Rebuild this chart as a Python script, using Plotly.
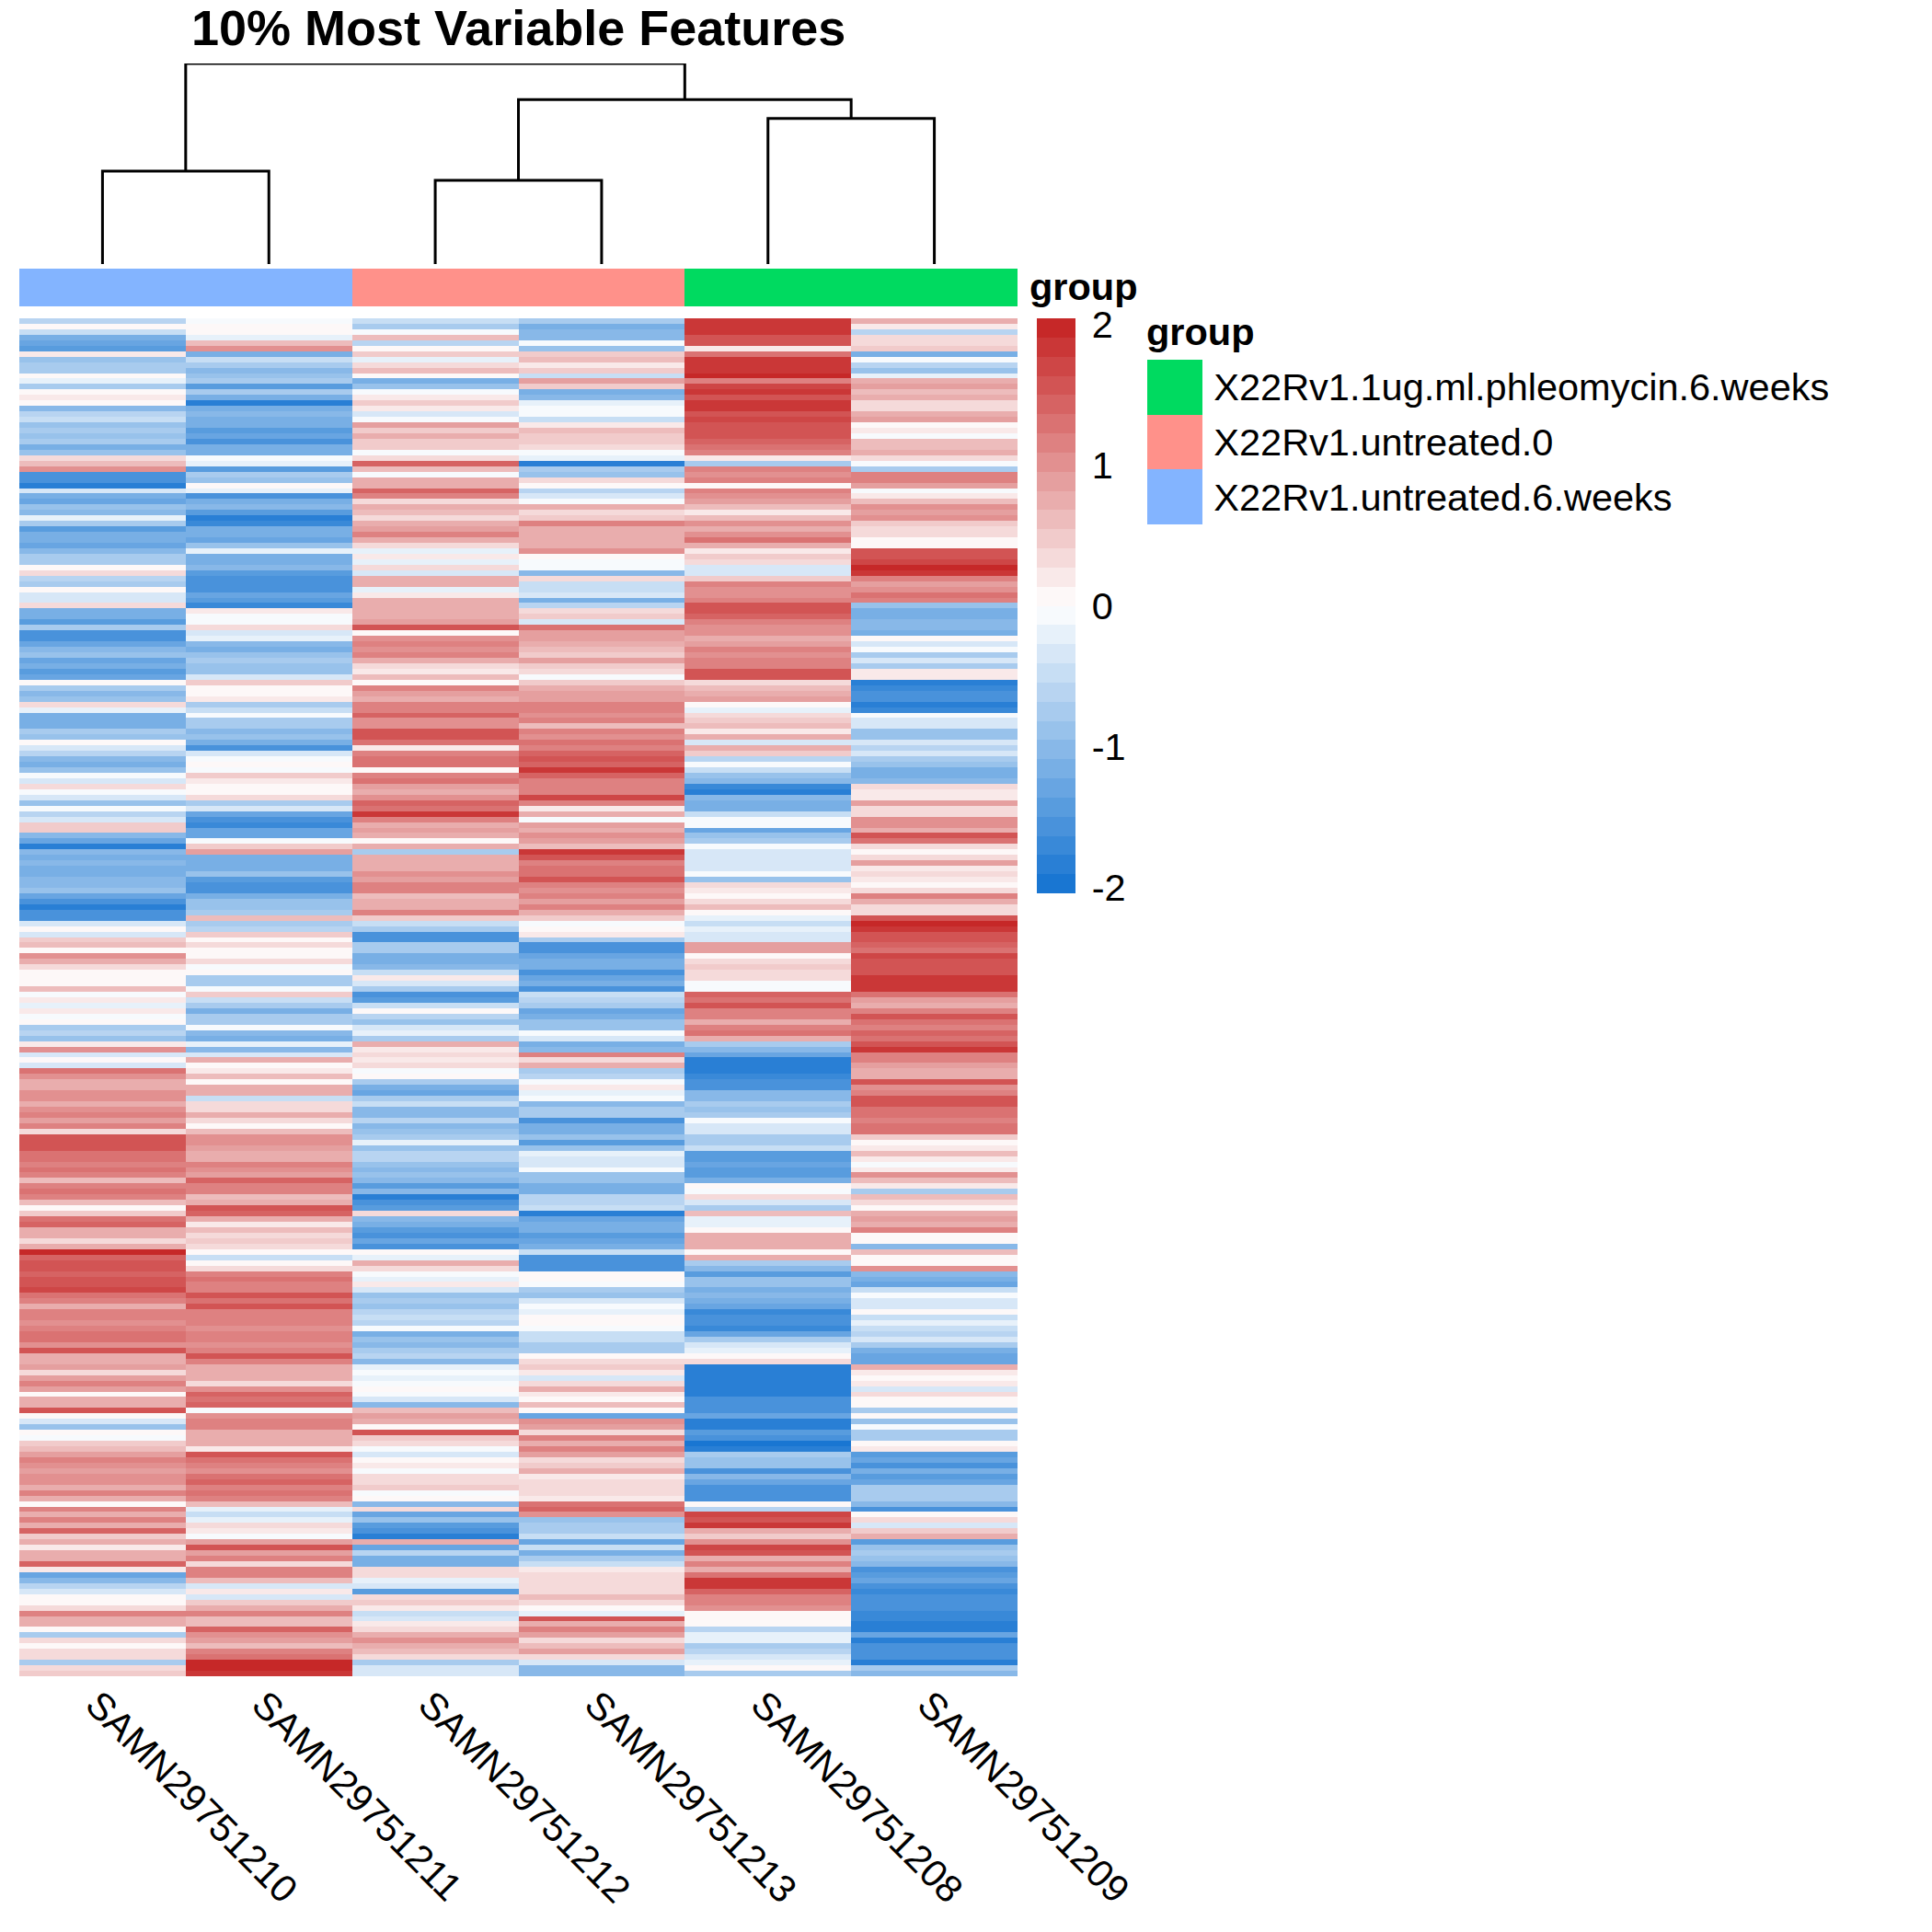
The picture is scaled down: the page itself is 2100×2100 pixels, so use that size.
import numpy as np
import plotly.graph_objects as go

# 샘플 / 그룹
samples = ["SAMN29751210", "SAMN29751211", "SAMN29751212", "SAMN29751213", "SAMN29751208", "SAMN29751209"]
sample_group = [2, 2, 1, 1, 0, 0]
group_names = ["X22Rv1.1ug.ml.phleomycin.6.weeks", "X22Rv1.untreated.0", "X22Rv1.untreated.6.weeks"]
group_colors = ["#00DA60", "#FF918A", "#83B4FF"]

# 덴드로그램 (왼쪽, 오른쪽, 높이) : 음수는 잎, 양수는 앞선 병합 번호
merge_left = [-1, -3, -5, 2, 1]
merge_right = [-2, -4, -6, 3, 4]
merge_height = [0.463, 0.417, 0.726, 0.82, 1.0]

# 스케일된 발현값 (그림에서 읽은 값, 위에서 아래로)
v_210 = [-0.6,0.0,-0.5,-1.2,-1.3,-1.4,0.2,-0.9,-0.8,-0.7,0.0,-0.2,-0.8,0.0,0.2,0.1,-1.0,-0.6,-0.5,-0.9,-0.7,-0.9,-0.7,-1.2,-0.9,0.3,0.6,1.0,-1.5,-1.5,-1.8,-0.3,-1.2,-1.3,-0.9,-1.0,-0.2,-0.8,-1.4,-1.1,-1.1,-1.3,-1.0,-0.7,-0.8,0.0,0.3,-0.6,-0.7,0.0,-0.4,-0.3,0.4,-1.2,-1.1,-1.4,-0.8,-1.5,-1.6,-1.3,-1.0,-0.9] + \
    [-1.3,-1.2,-1.4,-1.3,0.0,-0.8,-1.0,-0.9,0.4,-0.2,-1.2,-1.2,-1.2,-0.7,-0.9,0.1,-0.4,-0.6,-1.0,-1.1,-0.9,-0.1,-0.4,0.3,-0.1,-0.4,-0.9,-0.1,-0.6,-0.4,0.5,0.5,-1.0,-1.3,-1.9,-1.0,-1.2,-1.0,-1.1,-1.2,-1.0,-1.0,-0.9,-1.3,-1.5,-1.9,-1.6,-1.5,-0.3,0.0,-0.4,0.5,0.6,0.1,1.0,0.7,0.3,0.1,0.0,0.1,0.6,-0.1] + \
    [0.2,-0.2,0.2,-0.1,0.0,-0.7,-0.6,-0.9,0.2,1.0,-0.3,0.0,-0.3,1.3,1.0,0.8,0.8,1.0,1.0,0.7,1.0,1.1,0.9,1.1,0.4,1.5,1.6,1.6,1.3,1.3,1.2,1.3,1.1,0.6,1.2,1.3,1.2,0.6,0.1,0.5,1.3,1.4,0.8,0.8,0.4,0.8,2.0,1.4,1.6,1.5,1.4,1.5,1.6,1.7,1.3,1.1,0.7,1.1,1.2,1.0,1.2,1.3] + \
    [1.3,1.0,1.5,0.8,0.8,0.9,0.4,0.9,1.1,0.9,0.0,0.7,0.8,1.6,0.0,-0.3,-0.9,0.1,-0.1,0.5,0.6,0.9,1.1,1.0,0.9,1.0,1.0,0.7,1.1,0.7,0.1,1.1,0.8,1.2,0.7,1.4,0.5,0.8,0.2,0.7,0.8,1.4,0.2,-1.3,-1.0,-0.6,-0.3,0.0,0.0,0.4,1.1,0.7,0.7,0.0,-0.8,0.4,0.1,0.4,0.4,-0.7,0.4,0.5]
v_211 = [-0.1,0.0,0.1,-0.2,0.6,1.0,-1.1,-0.5,-0.8,-1.0,-0.9,-0.8,-1.4,-0.7,-1.1,-1.8,-1.1,-1.0,-1.1,-1.1,-1.4,-1.3,-1.5,-1.1,-1.1,-0.1,-0.2,-1.4,-0.7,-0.9,0.0,-0.2,-1.6,-1.1,-1.0,-1.4,-1.8,-1.7,-1.2,-1.1,-1.3,-0.9,-0.2,-1.2,-1.1,-1.0,-1.4,-1.6,-1.5,-1.6,-1.3,-1.4,-1.7,0.2,-0.1,-0.1,0.3,-0.4,-0.2,-1.0,-1.1,-0.9] + \
    [-0.8,-0.9,-0.9,-0.4,0.5,0.1,0.1,0.2,-0.7,-0.5,-0.1,-0.8,-0.7,-1.0,-0.9,-1.2,-1.5,-0.3,-0.1,0.0,-0.1,0.5,0.2,0.1,0.1,0.3,-0.7,-0.3,-1.3,-1.5,-1.7,-1.3,-1.3,-0.1,0.5,0.9,-1.2,-1.1,-1.2,-0.9,-1.4,-1.5,-1.6,-1.2,-0.9,-0.9,-0.8,0.6,-0.7,-0.6,0.5,0.1,0.3,0.0,0.1,0.3,-0.1,0.1,-0.8,-0.7,-0.1,0.5] + \
    [-0.5,-0.7,-1.1,-0.8,-0.8,-0.1,-1.0,-1.1,-0.2,-1.0,-0.4,0.8,0.1,0.2,0.6,0.0,0.8,0.7,-0.5,0.3,0.4,0.7,0.3,0.1,0.6,1.0,1.0,0.9,0.8,0.8,1.1,1.0,0.9,1.4,1.2,1.1,0.6,0.7,1.6,1.4,0.7,0.2,0.6,0.4,0.5,0.4,0.0,-0.5,0.1,0.3,1.1,1.3,1.1,1.2,1.6,1.3,1.5,1.1,1.1,1.1,1.0,1.1] + \
    [1.2,1.0,1.1,1.5,1.2,0.8,0.8,0.8,0.4,1.0,1.4,1.3,1.4,-0.1,1.0,1.1,1.1,0.7,0.7,0.8,0.2,1.5,1.3,1.2,1.0,1.3,1.4,1.2,1.3,1.2,0.6,-0.2,-0.5,-0.2,0.3,0.2,-0.1,0.9,1.6,0.9,1.1,0.4,1.2,1.2,0.6,-0.3,0.2,-0.3,0.5,0.7,1.2,0.6,0.6,1.4,1.0,0.9,0.6,1.1,1.3,2.0,2.0,1.9]
v_212 = [-0.5,-0.7,-0.1,0.6,-0.6,0.1,0.5,-0.2,0.3,0.6,0.0,-1.1,-0.9,-0.1,0.2,0.5,0.2,-0.3,-0.1,0.9,0.5,0.7,0.5,0.5,-0.1,0.4,1.4,0.6,-0.1,0.8,0.7,1.4,1.2,0.3,0.7,0.6,0.4,0.7,0.9,1.2,0.8,0.4,-0.2,0.2,-0.2,0.4,-0.4,0.8,0.7,-0.2,0.2,0.8,0.7,0.8,0.8,0.9,1.5,0.1,1.0,1.1,1.0,1.1] + \
    [0.8,0.4,0.2,0.6,0.0,1.2,0.9,0.8,1.2,1.1,1.4,1.0,1.0,1.5,1.6,1.3,0.2,1.2,1.3,1.3,0.0,1.1,1.3,0.9,0.8,1.0,1.4,1.3,1.8,1.1,0.8,0.9,0.7,0.0,0.7,-0.7,0.8,0.8,0.8,1.0,0.9,1.2,1.1,0.6,0.8,0.7,1.2,0.5,-0.5,-0.8,-1.5,-1.5,-0.7,-0.7,-1.2,-1.2,-1.0,-0.5,0.2,-0.4,-0.8,-1.6] + \
    [-1.4,-0.5,0.0,-0.6,-0.9,-0.4,-0.2,-0.7,0.8,0.2,0.3,0.2,0.3,-0.1,0.0,-0.8,-1.2,-1.3,-0.8,-0.5,-1.0,-1.0,-0.6,-1.0,-0.9,-0.7,-0.2,-0.9,-0.6,-0.6,-0.9,-1.0,-0.9,-1.0,-1.4,-1.0,-1.8,-1.5,-1.4,0.3,-1.0,-1.2,-1.4,-1.5,-1.3,-1.5,0.1,-0.2,0.7,0.3,-0.1,-0.2,0.2,-0.3,-0.9,-0.8,-0.9,-0.6,-0.5,-0.6,-0.1,-1.2] + \
    [-0.9,-1.0,-0.7,-0.6,-1.0,-0.2,-0.1,-0.2,-0.1,0.0,-0.1,-0.4,-1.0,0.6,0.9,0.7,0.1,1.5,0.5,0.3,-0.1,-0.3,0.0,0.2,-0.1,0.4,0.3,0.5,-0.1,0.0,-1.0,0.4,-1.3,-0.9,-1.4,-1.5,-1.8,0.7,-1.3,-0.6,-1.2,-1.1,0.3,0.4,-0.2,-0.4,-1.4,0.3,0.5,0.2,-0.5,-0.3,0.2,0.4,0.8,1.0,0.8,0.6,0.4,-0.7,-0.3,-0.3]
v_213 = [-0.8,-1.2,-1.0,-1.0,-0.1,-0.9,0.5,0.6,0.2,0.5,-0.5,0.9,0.5,-1.1,-1.0,-0.2,-0.1,-0.1,-0.5,0.2,0.6,0.5,0.5,0.3,-0.1,-0.2,-1.8,-0.7,-0.9,0.3,0.1,-0.6,-0.3,-0.1,0.8,0.4,0.5,1.2,0.7,0.7,0.7,0.8,1.0,0.1,-0.1,-0.1,-1.0,0.4,-0.5,-0.5,-0.4,-1.2,-0.6,0.3,0.5,-0.3,1.3,0.9,0.9,0.8,0.6,0.5] + \
    [0.9,0.5,0.3,-0.1,0.5,0.7,0.9,0.9,1.2,1.2,1.0,1.1,0.6,1.1,1.0,1.3,1.1,1.4,1.5,1.4,1.8,1.4,1.2,1.2,1.1,1.7,1.2,0.2,0.7,-0.1,0.9,0.8,1.0,0.9,0.6,1.8,1.6,1.2,1.3,1.3,1.5,1.2,1.0,1.1,0.9,1.1,0.8,0.5,-0.1,0.0,0.2,-0.8,-1.6,-1.6,-1.3,-1.2,-1.1,-1.5,-1.3,-1.2,-1.6,-0.5] + \
    [-0.6,-0.7,-1.3,-1.1,-0.9,-0.9,-0.1,-0.4,-1.2,-1.0,1.2,0.3,0.7,-0.8,-0.6,-0.1,0.2,-0.2,-0.1,-1.0,-0.7,-0.8,-1.5,-1.2,-1.1,-0.9,-1.4,-0.9,-0.2,-0.4,-0.3,-0.1,-0.9,-0.9,-1.1,-1.1,-0.6,-0.6,-0.5,-1.9,-1.3,-1.2,-1.2,-1.4,-1.3,-1.2,-0.5,-1.6,-1.6,-1.5,0.1,0.0,-0.1,-0.7,-0.9,-0.4,-0.1,-0.2,0.0,0.1,-0.1,-0.5] + \
    [-0.5,-0.7,-0.8,0.0,0.3,0.5,0.2,-0.4,0.3,0.7,0.2,0.0,0.6,0.1,-1.3,1.0,0.9,0.4,1.1,0.8,1.1,0.9,0.3,0.5,0.8,0.2,0.4,0.3,0.3,0.2,1.3,1.4,1.0,-0.9,-0.8,-0.7,-0.5,-1.3,-0.5,-1.2,-0.8,-0.5,0.2,0.3,0.4,0.4,0.3,0.6,0.3,0.0,-0.2,1.5,0.7,1.1,0.9,0.4,0.6,0.9,0.4,-0.4,-1.0,-1.0]
v_208 = [1.8,1.9,1.9,1.6,1.5,0.2,1.3,1.8,1.9,1.8,2.0,1.2,1.7,1.8,1.6,1.8,1.9,1.6,1.7,1.6,1.5,1.5,1.4,1.3,1.2,0.2,-0.8,1.1,1.0,1.1,0.1,1.1,1.0,0.9,0.6,0.2,0.6,1.0,0.7,1.0,1.3,0.8,0.2,0.5,0.3,-0.3,-0.3,0.5,1.1,1.0,1.0,1.1,1.5,1.6,1.4,1.2,1.0,1.0,0.8,0.9,1.2,1.0] + \
    [1.2,1.1,1.5,1.6,0.3,0.6,0.8,0.9,0.0,-0.2,0.4,0.5,0.6,0.2,0.7,-0.3,0.7,0.5,-0.6,-0.1,-0.5,-0.9,-1.0,-1.7,-1.8,-1.0,-1.2,-1.1,-0.5,-0.1,-0.1,-1.3,-0.9,-0.8,-0.1,-0.3,-0.4,-0.4,-0.4,-0.1,-0.9,0.4,0.2,0.0,0.4,0.6,0.1,-0.2,-0.5,-0.2,-0.3,-0.4,0.9,0.9,0.1,0.3,0.5,0.4,0.3,-0.1,-0.1,1.4] + \
    [1.3,1.6,1.2,1.1,0.8,1.1,1.3,0.8,-0.7,-1.0,-1.3,-1.9,-1.8,-1.8,-1.7,-1.6,-1.6,-1.0,-1.0,-0.7,-0.9,-0.8,-0.1,-0.4,-0.3,-0.7,-0.8,-0.5,-1.4,-1.4,-1.3,-1.4,-1.4,-1.2,0.0,-0.1,0.4,-0.3,-0.7,0.6,-0.2,-0.2,0.1,0.8,0.8,0.7,0.0,0.8,-0.7,-1.0,-1.4,-0.9,-0.9,-1.1,-1.0,-1.1,-1.3,-1.7,-1.6,-1.5,-1.7,-1.3] + \
    [-0.8,-0.4,-0.2,0.0,0.4,-1.9,-1.9,-1.9,-1.8,-1.8,-1.9,-1.5,-1.6,-1.6,-1.3,-1.8,-1.8,-1.4,-1.5,-2.0,-1.9,-0.8,-0.9,-0.9,-1.5,-1.0,-1.3,-1.5,-1.5,-1.5,0.0,-0.6,1.7,1.5,1.8,0.8,0.5,1.0,1.7,1.5,0.7,1.1,0.8,1.3,1.9,1.8,1.4,1.2,1.2,1.0,0.1,0.0,0.1,-0.6,-0.2,-0.2,-0.8,-0.6,-0.3,-0.2,0.1,-0.7]
v_209 = [0.7,0.2,-0.6,0.4,0.3,0.5,-1.2,-0.1,-0.6,-0.9,-0.2,0.8,0.9,0.6,0.7,0.3,0.4,0.8,0.9,0.1,0.2,-0.1,0.6,0.6,0.8,0.4,-0.1,-0.7,1.1,1.1,0.9,-0.1,0.2,0.6,1.0,0.9,1.0,0.5,0.3,0.4,0.1,0.0,1.5,1.6,1.7,2.0,1.9,1.2,0.9,1.0,1.3,1.2,-0.9,-1.1,-1.1,-1.0,-1.0,-1.2,0.0,-0.3,-0.1,-0.8] + \
    [-0.4,-0.7,0.2,0.2,-1.9,-1.7,-1.6,-1.5,-1.8,-1.7,-0.1,-0.3,-0.4,-0.9,-0.9,-0.3,-0.6,-0.3,-0.8,-0.9,-1.2,-1.1,-1.0,0.4,0.2,0.2,0.9,0.3,0.4,1.0,1.0,0.8,1.5,1.3,0.3,0.0,0.4,0.9,0.2,0.4,0.2,0.0,0.3,1.1,0.7,0.3,0.4,1.5,2.0,1.9,1.6,1.6,1.4,1.3,1.7,1.6,1.5,1.6,1.8,1.9,1.8,1.3] + \
    [0.9,0.7,1.2,1.5,1.3,1.2,1.4,1.3,1.6,1.8,1.1,1.1,0.9,0.8,0.8,1.5,1.0,1.1,1.6,1.5,1.3,1.3,1.2,1.3,1.3,0.5,0.0,0.2,0.6,0.2,-0.1,0.2,1.0,0.6,0.2,-0.7,0.6,0.3,0.1,0.8,0.9,0.7,1.1,0.1,0.1,-1.0,0.6,0.0,0.1,1.0,-1.0,-1.1,-1.3,-0.5,-0.1,-0.4,-0.3,0.0,-0.5,-0.2,-0.5,-0.6] + \
    [-0.4,-0.7,-1.2,-1.3,-1.3,0.8,0.2,0.0,0.2,-0.3,0.4,0.1,0.1,-0.7,0.0,-0.9,-0.1,-0.8,-0.7,0.0,0.2,-1.4,-1.3,-1.5,-1.2,-1.4,-1.3,-0.8,-0.7,-0.7,-1.0,-1.6,0.1,0.4,-0.3,0.5,0.7,-1.4,-0.9,-0.8,-0.9,-1.0,-1.6,-1.4,-1.3,-1.5,-1.7,-1.6,-1.6,-1.5,-1.7,-1.7,-1.9,-1.9,-1.3,-1.9,-1.6,-1.6,-1.6,-1.9,-0.8,-1.0]

# 범례 눈금
bar_ticks = [-2, -1, 0, 1, 2]
bar_labels = ["-2", "-1", "0", "1", "2"]

# 페이지 body 여백 8px 만큼 빼서 계산
W, H = 2092, 2092
PAGE = 8
FONT = "Liberation Sans"
TEXT = 41.5
BAR_MAX = 2.04


def fx(px):
    return (px - PAGE) / W


def fy(px):
    return 1 - (px - PAGE) / H


def dom_x(a, b):
    return [fx(a), fx(b)]


def dom_y(top, bottom):
    return [fy(bottom), fy(top)]


# 파랑-흰색-빨강 30단계 색상
def make_palette(n=30):
    low, mid, high = (25, 118, 210), (255, 255, 255), (198, 40, 40)
    out = []
    for i in range(n):
        t = i / (n - 1) * 2
        a, b, s = (low, mid, t) if t <= 1 else (mid, high, t - 1)
        rgb = [round(a[k] + (b[k] - a[k]) * s) for k in range(3)]
        out.append(f"rgb({rgb[0]},{rgb[1]},{rgb[2]})")
    return out


def step_scale(colors):
    n = len(colors)
    scale = []
    for i, c in enumerate(colors):
        scale.append([i / n, c])
        scale.append([(i + 1) / n, c])
    return scale


z = np.array([v_210, v_211, v_212, v_213, v_208, v_209]).T
rows = list(range(z.shape[0]))

fig = go.Figure()

# 본 히트맵
fig.add_trace(go.Heatmap(
    z=z, x=samples, y=rows,
    zmin=-BAR_MAX, zmax=BAR_MAX,
    colorscale=step_scale(make_palette()),
    hoverinfo="skip",
    colorbar=dict(
        lenmode="pixels", len=625, thicknessmode="pixels", thickness=42,
        x=fx(1127), xanchor="left", y=fy(346), yanchor="top",
        xpad=0, ypad=0, outlinewidth=0,
        tickmode="array", tickvals=bar_ticks, ticktext=bar_labels,
        ticks="outside", ticklen=10, tickcolor="rgba(0,0,0,0)",
        tickfont=dict(family=FONT, size=TEXT, color="black"),
    ),
))

# 상단 그룹 막대
fig.add_trace(go.Heatmap(
    z=[sample_group], x=samples, y=["group"],
    zmin=0, zmax=2,
    colorscale=step_scale(group_colors),
    showscale=False, hoverinfo="skip",
    xaxis="x2", yaxis="y2",
))

# 덴드로그램
def node_pos(i):
    if i < 0:
        return -i - 1, 0
    return node_x[i - 1], merge_height[i - 1]


node_x = []
for left, right, h in zip(merge_left, merge_right, merge_height):
    xl, hl = node_pos(left)
    xr, hr = node_pos(right)
    node_x.append((xl + xr) / 2)
    fig.add_trace(go.Scatter(
        x=[xl, xl, xr, xr], y=[hl, h, h, hr],
        mode="lines", line=dict(color="black", width=3),
        hoverinfo="skip", showlegend=False,
        xaxis="x3", yaxis="y3",
    ))

# 그룹 범례
fig.add_trace(go.Heatmap(
    z=[[0], [1], [2]], y=group_names, x=["group"],
    zmin=0, zmax=2,
    colorscale=step_scale(group_colors),
    showscale=False, hoverinfo="skip",
    xaxis="x4", yaxis="y4",
))

fig.update_layout(
    width=W, height=H,
    margin=dict(l=0, r=0, t=0, b=0, autoexpand=False),
    paper_bgcolor="white", plot_bgcolor="white",
    showlegend=False,
    font=dict(family=FONT, color="black"),
    title=dict(
        text="<b>10% Most Variable Features</b>",
        x=fx(208), xanchor="left", y=fy(30), yanchor="middle",
        font=dict(family=FONT, size=54, color="black"),
    ),
    xaxis=dict(
        domain=dom_x(21, 1106), tickangle=45, ticks="", showgrid=False, zeroline=False,
        ticklabelshift=-6, ticklabelstandoff=-3,
        tickfont=dict(family=FONT, size=TEXT, color="black"), anchor="y",
    ),
    yaxis=dict(domain=dom_y(346, 1822), autorange="reversed", visible=False, anchor="x"),
    xaxis2=dict(domain=dom_x(21, 1106), visible=False, anchor="y2"),
    yaxis2=dict(domain=dom_y(292, 333), visible=False, anchor="x2"),
    xaxis3=dict(domain=dom_x(21, 1106), range=[-0.5, 5.5], visible=False, anchor="y3"),
    yaxis3=dict(domain=dom_y(69, 287), range=[0, 1], visible=False, anchor="x3"),
    xaxis4=dict(domain=dom_x(1247, 1307), visible=False, anchor="y4"),
    yaxis4=dict(
        domain=dom_y(391, 570), autorange="reversed", side="right", anchor="x4",
        showgrid=False, zeroline=False, ticks="outside", ticklen=3,
        tickcolor="rgba(0,0,0,0)", showline=False,
        tickfont=dict(family=FONT, size=TEXT, color="black"),
    ),
    annotations=[
        dict(text="<b>group</b>", x=fx(1117), y=fy(311), xref="paper", yref="paper",
             xanchor="left", yanchor="middle", showarrow=False,
             font=dict(family=FONT, size=TEXT, color="black")),
        dict(text="<b>group</b>", x=fx(1244), y=fy(360), xref="paper", yref="paper",
             xanchor="left", yanchor="middle", showarrow=False,
             font=dict(family=FONT, size=TEXT, color="black")),
    ],
)

fig.write_html("out.html")
